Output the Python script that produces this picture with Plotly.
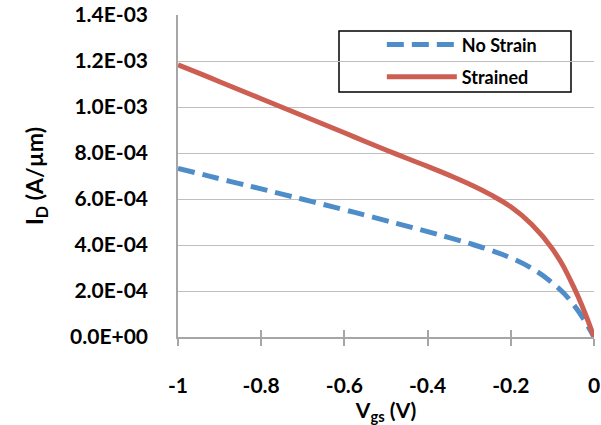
import plotly.graph_objects as go

vgs = [-1, -0.95, -0.9, -0.85, -0.8, -0.75, -0.7, -0.65, -0.6, -0.55, -0.5,
       -0.45, -0.4, -0.35, -0.3, -0.25, -0.2, -0.15, -0.1, -0.05, 0]
id_no_strain = [0.733e-3, 0.711e-3, 0.688e-3, 0.666e-3, 0.644e-3, 0.621e-3, 0.599e-3, 0.576e-3, 0.553e-3, 0.530e-3, 0.506e-3,
                0.482e-3, 0.458e-3, 0.433e-3, 0.407e-3, 0.378e-3, 0.344e-3, 0.299e-3, 0.235e-3, 0.143e-3, 0.0]
id_strained = [1.183e-3, 1.147e-3, 1.110e-3, 1.073e-3, 1.036e-3, 0.999e-3, 0.962e-3, 0.925e-3, 0.888e-3, 0.850e-3, 0.813e-3,
               0.777e-3, 0.742e-3, 0.705e-3, 0.665e-3, 0.620e-3, 0.566e-3, 0.490e-3, 0.383e-3, 0.222e-3, 0.0]

y_tickvals = [0, 2e-4, 4e-4, 6e-4, 8e-4, 1.0e-3, 1.2e-3, 1.4e-3]
y_ticktext = ["0.0E+00", "2.0E-04", "4.0E-04", "6.0E-04", "8.0E-04", "1.0E-03", "1.2E-03", "1.4E-03"]
x_tickvals = [-1, -0.8, -0.6, -0.4, -0.2, 0]
x_ticktext = ["-1", "-0.8", "-0.6", "-0.4", "-0.2", "0"]

FONT = "Lato"
BLUE = "#4F8DC9"
RED = "#CD5F52"
AXIS_GRAY = "#A6A6A6"

fig = go.Figure()
fig.add_trace(go.Scatter(x=vgs, y=id_no_strain, mode="lines", name="No Strain",
                         line=dict(color=BLUE, width=5, dash="17px,8px", shape="spline", smoothing=1.3),
                         legendgroup="a"))
fig.add_trace(go.Scatter(x=vgs, y=id_strained, mode="lines", name="Strained",
                         line=dict(color=RED, width=5, shape="spline", smoothing=1.3),
                         legendgroup="b"))
# invisible trace for inner half of cross ticks
fig.add_trace(go.Scatter(x=[-1, 0], y=[0, 0], xaxis="x2", mode="lines",
                         line=dict(width=0), showlegend=False, hoverinfo="skip"))

fig.update_layout(
    width=601, height=425,
    margin=dict(l=178, r=7, t=15, b=88, autoexpand=False),
    paper_bgcolor="white", plot_bgcolor="white",
    font=dict(family=FONT, color="black"),
    showlegend=True,
    legend=dict(x=0.49, y=0.965, xanchor="left", yanchor="top",
                bgcolor="rgba(0,0,0,0)", borderwidth=0,
                font=dict(family=FONT, size=18, color="black", weight="bold"),
                itemwidth=70, tracegroupgap=6, traceorder="grouped"),
    xaxis=dict(range=[-1, 0], tickvals=x_tickvals, ticktext=x_ticktext, automargin=False,
               showgrid=False, zeroline=False, showline=True,
               linecolor=AXIS_GRAY, linewidth=1.5,
               ticks="outside", ticklen=7, tickcolor=AXIS_GRAY, tickwidth=1.5,
               ticklabelstandoff=22,
               tickfont=dict(family=FONT, size=21, color="black", weight="bold"),
               title=dict(text="V<sub>gs</sub> (V)", standoff=0,
                          font=dict(family=FONT, size=21, color="black", weight="bold"))),
    xaxis2=dict(range=[-1, 0], overlaying="x", tickvals=x_tickvals, showticklabels=False,
                automargin=False, showgrid=False, zeroline=False, showline=False,
                ticks="inside", ticklen=7, tickcolor=AXIS_GRAY, tickwidth=1.5),
    yaxis=dict(range=[0, 1.4e-3], tickvals=y_tickvals, ticktext=y_ticktext, automargin=False,
               showgrid=True, gridcolor="#BFBFBF", gridwidth=1.2,
               zeroline=False, showline=True, linecolor=AXIS_GRAY, linewidth=1.5,
               ticks="", ticklabelstandoff=24,
               tickfont=dict(family=FONT, size=21, color="black", weight="bold"),
               title=dict(text="I<sub>D</sub> (A/µm)", standoff=20,
                          font=dict(family=FONT, size=23, color="black", weight="bold"))),
    shapes=[dict(type="rect", xref="paper", yref="paper",
                 x0=(339 - 178) / 416, x1=(571 - 178) / 416,
                 y0=(337 - 92) / 322, y1=(337 - 31) / 322,
                 line=dict(color="black", width=1.5), fillcolor="white", layer="below")],
)

fig.write_html("out.html")
